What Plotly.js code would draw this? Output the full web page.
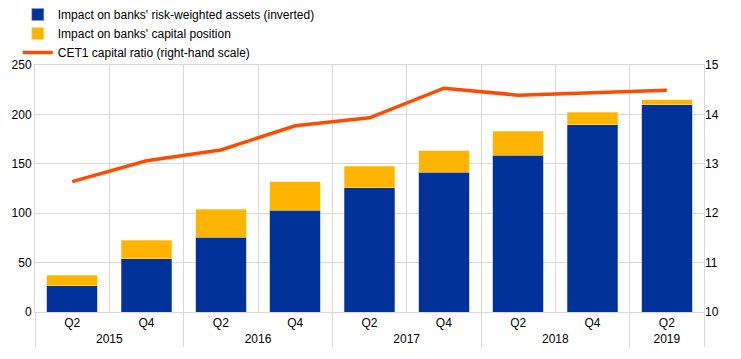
<!DOCTYPE html>
<html>
<head>
<meta charset="utf-8">
<script src="https://cdn.plot.ly/plotly-3.0.1.min.js"></script>
<style>html,body{margin:0;padding:0;background:#fff;}#chart{width:741px;height:359px;}</style>
</head>
<body>
<div id="chart"></div>
<script>
const years = ['2015','2015','2016','2016','2017','2017','2018','2018','2019'];
const quarters = ['Q2','Q4','Q2','Q4','Q2','Q4','Q2','Q4','Q2'];
const rwaImpact = [26.6, 54.0, 75.6, 103.2, 125.8, 141.4, 158.9, 189.6, 209.8];
const capitalImpact = [10.8, 18.6, 28.4, 28.7, 21.6, 21.6, 24.3, 12.8, 4.8];
const cet1Ratio = [12.64, 13.06, 13.28, 13.77, 13.93, 14.53, 14.39, 14.44, 14.49];
const seriesNames = ["Impact on banks' risk-weighted assets (inverted)", "Impact on banks' capital position", "CET1 capital ratio (right-hand scale)"];

const x = [years, quarters];
const font = {family: 'Liberation Sans, Arial, sans-serif', size: 12, color: '#000'};
const traces = [
  {type: 'bar', x: x, y: rwaImpact, name: seriesNames[0], marker: {color: '#003299', line: {color: '#8aa0d0', width: 0.5}}},
  {type: 'bar', x: x, y: capitalImpact, name: seriesNames[1], marker: {color: '#FFB400', line: {color: '#ffe08a', width: 0.5}}},
  {type: 'scatter', mode: 'lines', x: x, y: cet1Ratio, name: seriesNames[2], yaxis: 'y2', line: {color: '#FF4B00', width: 3.5}}
];
const layout = {
  width: 741, height: 359,
  margin: {l: 35, r: 37, t: 65, b: 47, autoexpand: false},
  barmode: 'stack', bargap: 0.32,
  font: font,
  paper_bgcolor: '#fff', plot_bgcolor: '#fff',
  showlegend: true,
  legend: {x: 0.024, y: 1.017, xref: 'container', yref: 'container', xanchor: 'left', yanchor: 'top',
           traceorder: 'normal', font: font, itemwidth: 30, tracegroupgap: 0, bgcolor: 'rgba(0,0,0,0)'},
  xaxis: {type: 'multicategory', showgrid: true, gridcolor: '#d9d9d9', showline: true, linecolor: '#d9d9d9', mirror: true,
          showdividers: true, dividercolor: '#d9d9d9', dividerwidth: 1, ticks: '', tickfont: font},
  yaxis: {range: [0, 250], dtick: 50, showgrid: true, gridcolor: '#d9d9d9', zeroline: false, showline: true, linecolor: '#d9d9d9', mirror: true, ticks: '', tickfont: font},
  yaxis2: {range: [10, 15], dtick: 1, overlaying: 'y', side: 'right', showgrid: false, zeroline: false, ticks: '', tickfont: font}
};
Plotly.newPlot('chart', traces, layout, {displayModeBar: false, staticPlot: true});
</script>
</body>
</html>
